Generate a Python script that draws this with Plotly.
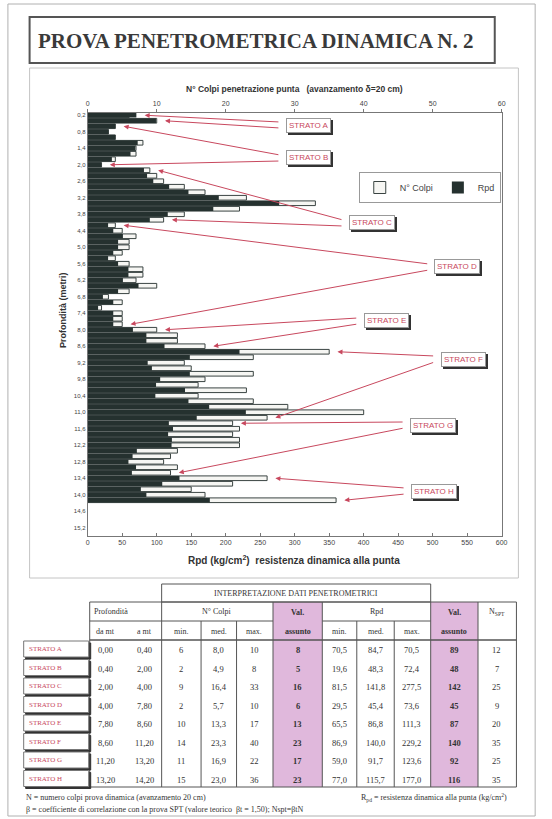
import plotly.graph_objects as go

W, H = 552, 819

# profondità delle letture (ogni 20 cm)
profondita = [round(0.2 * i, 1) for i in range(1, 72)]

n_colpi = [6, 10,
           4, 3, 4, 8, 7, 7, 4, 2,
           9, 10, 11, 14, 17, 23, 33, 22, 14, 11,
           4, 5, 7, 6, 6, 5, 4, 6, 8, 8, 7, 10, 6, 3, 5, 2, 5, 5, 5,
           10, 13, 13, 17,
           35, 24, 14, 15, 24, 17, 16, 23, 16, 24, 29, 40, 26,
           21, 22, 21, 22, 22, 13, 12, 11, 13, 12,
           26, 21, 15, 17, 36]

rpd = [70.5, 98.9,
       40, 30, 40, 72.4, 69, 62, 35, 19.6,
       81.5, 86, 95, 118, 146, 190, 277.5, 182, 116, 90,
       29.5, 37, 51, 44, 44, 37, 29.5, 44, 59, 59, 51, 73.6, 44, 22, 37, 15, 37, 37, 37,
       65.5, 85, 85, 111.3,
       220, 148, 86.9, 93, 148, 105, 99, 141, 98, 146, 176, 229.2, 158,
       117.6, 123.6, 116.5, 122, 121.5, 71.2, 65, 59, 70, 64,
       133, 108, 77, 85, 177]

tick_depths = [round(0.2 + 0.6 * k, 1) for k in range(26)]
tick_labels = [f"{v:.1f}".replace(".", ",") for v in tick_depths]

# tabella interpretazione
strati = ["STRATO A", "STRATO B", "STRATO C", "STRATO D",
          "STRATO E", "STRATO F", "STRATO G", "STRATO H"]
da_mt = [0.00, 0.40, 2.00, 4.00, 7.80, 8.60, 11.20, 13.20]
a_mt = [0.40, 2.00, 4.00, 7.80, 8.60, 11.20, 13.20, 14.20]
n_min = [6, 2, 9, 2, 10, 14, 11, 15]
n_med = [8.0, 4.9, 16.4, 5.7, 13.3, 23.3, 16.9, 23.0]
n_max = [10, 8, 33, 10, 17, 40, 22, 36]
n_val = [8, 5, 16, 6, 13, 23, 17, 23]
rpd_min = [70.5, 19.6, 81.5, 29.5, 65.5, 86.9, 59.0, 77.0]
rpd_med = [84.7, 48.3, 141.8, 45.4, 86.8, 140.0, 91.7, 115.7]
rpd_max = [70.5, 72.4, 277.5, 73.6, 111.3, 229.2, 123.6, 177.0]
rpd_val = [89, 48, 142, 45, 87, 140, 92, 116]
nspt = [12, 7, 25, 9, 20, 35, 25, 35]

# posizione (px) delle etichette degli strati nel grafico
label_pos = [(311, 125), (311, 158), (375, 223), (462, 267),
             (390, 321), (468, 359), (437, 425), (438, 491)]

RED = "#c8485e"
SANS = "Liberation Sans, Arial, sans-serif"
SERIF = "Liberation Serif, Times New Roman, serif"
INK = "#333333"


def fx(px):
    return px / W


def fy(py):
    return 1 - py / H


def comma(v, d):
    return f"{v:.{d}f}".replace(".", ",")


PLOT_L, PLOT_R, PLOT_T, PLOT_B = 87, 507, 112.5, 536

fig = go.Figure()
fig.add_trace(go.Bar(y=profondita, x=n_colpi, orientation="h", name="N° Colpi",
                     xaxis="x", yaxis="y", width=0.17,
                     marker=dict(color="#f6f6f3", line=dict(color="#3a4442", width=1))))
fig.add_trace(go.Bar(y=profondita, x=rpd, orientation="h", name="Rpd",
                     xaxis="x2", yaxis="y", width=0.17,
                     marker=dict(color="#25312f", line=dict(width=0))))

shapes = []
ann = []


def rect(x0, y0, x1, y1, line="#555", width=1, fill=None):
    d = dict(type="rect", xref="paper", yref="paper", x0=fx(x0), x1=fx(x1),
             y0=fy(y0), y1=fy(y1), line=dict(color=line, width=width), layer="below")
    if fill:
        d["fillcolor"] = fill
    if width == 0:
        d["line"] = dict(width=0)
    shapes.append(d)


def hline(x0, x1, y, width=1, color="#555"):
    shapes.append(dict(type="line", xref="paper", yref="paper", x0=fx(x0), x1=fx(x1),
                       y0=fy(y), y1=fy(y), line=dict(color=color, width=width)))


def vline(x, y0, y1, width=1, color="#555"):
    shapes.append(dict(type="line", xref="paper", yref="paper", x0=fx(x), x1=fx(x),
                       y0=fy(y0), y1=fy(y1), line=dict(color=color, width=width)))


def text(s, x, y, size=8, font=SERIF, color=INK, anchor="center", **kw):
    ann.append(dict(text=s, x=fx(x), y=fy(y), xref="paper", yref="paper",
                    showarrow=False, xanchor=anchor, yanchor="middle",
                    font=dict(family=font, size=size, color=color), **kw))


# cornici pagina
rect(6, 4, 541, 816, line="#b0b0b0")
rect(28, 17, 500, 63, line="#555", width=2)
rect(28, 68, 524, 578, line="#c4c4c4")
text("<b>PROVA PENETROMETRICA DINAMICA N. 2</b>", 34, 41, size=21, anchor="left", color="#3a3a3a")

# titoli assi
text("<b>N° Colpi penetrazione punta   (avanzamento δ=20 cm)</b>", 297, 89, size=8.5, font=SANS)
text("<b>Rpd (kg/cm<sup>2</sup>)  resistenza dinamica alla punta</b>", 296, 560, size=10, font=SANS)
text("<b>Profondità (metri)</b>", 62, 310, size=9, font=SANS, textangle=-90)

# etichette strati con frecce
for k, name in enumerate(strati):
    cx, cy = label_pos[k]
    i0 = profondita.index(round(da_mt[k] + 0.2, 1))
    i1 = profondita.index(round(a_mt[k], 1))
    left = cx - 29
    for j, i in enumerate((i0, i1)):
        tip = max(n_colpi[i] * 10, rpd[i]) + 12
        ty = cy - 3 if j == 0 else cy + 3
        ann.append(dict(x=tip, y=profondita[i], xref="x2", yref="y", text="",
                        showarrow=True, axref="x2", ayref="y",
                        ax=(left - PLOT_L) / 0.7, ay=0.1 + (ty - PLOT_T) / 27.5,
                        arrowhead=2, arrowsize=1, arrowwidth=1, arrowcolor=RED, standoff=0))
    ann.append(dict(text=name, x=fx(cx), y=fy(cy), xref="paper", yref="paper",
                    showarrow=False, xanchor="center", yanchor="middle", xshift=2, yshift=-2,
                    font=dict(family=SANS, size=8, color="#333"), bgcolor="#333",
                    bordercolor="#333", borderwidth=1, borderpad=2))
    ann.append(dict(text=name, x=fx(cx), y=fy(cy), xref="paper", yref="paper",
                    showarrow=False, xanchor="center", yanchor="middle",
                    font=dict(family=SANS, size=8, color=RED), bgcolor="white",
                    bordercolor="#999", borderwidth=1, borderpad=2))

# tabella
T_TOP, H1, H2, H3, T_BOT = 584, 602, 621, 640, 787
rect(275, H1, 325, T_BOT, width=0, fill="#e0b8dc")
rect(435, H1, 483, T_BOT, width=0, fill="#e0b8dc")
rect(162, T_TOP, 435, H1)
rect(89, H1, 522, T_BOT)
hline(89, 275, H2)
hline(325, 435, H2)
hline(89, 522, H3, width=1.5)
for x in (162, 275, 325, 435, 483):
    vline(x, H1, T_BOT)
for x in (202, 238, 360, 398):
    vline(x, H2, T_BOT)

text("INTERPRETAZIONE DATI PENETROMETRICI", 298, 593, size=8)
text("Profondità", 91, 611, anchor="left")
text("N° Colpi", 218, 611)
text("Rpd", 380, 611)
text("N<sub>SPT</sub>", 502, 612)
for cxv in (300, 459):
    text("<b>Val.</b>", cxv, 612)
    text("<b>assunto</b>", cxv, 631)
for s, cxv in [("da mt", 105), ("a mt", 145), ("min.", 182), ("med.", 220), ("max.", 256),
               ("min.", 342), ("med.", 379), ("max.", 416)]:
    text(s, cxv, 631)

for i, name in enumerate(strati):
    cy = 650 + 18.5 * i
    rect(24, cy - 7, 90, cy + 9, line="#333", fill="#333")
    rect(22, cy - 9, 88, cy + 7, line="#777", fill="white")
    text(name, 25, cy - 1, size=7, color=RED, anchor="left")
    row = [(comma(da_mt[i], 2), 105), (comma(a_mt[i], 2), 145),
           (str(n_min[i]), 182), (comma(n_med[i], 1), 220), (str(n_max[i]), 256),
           (f"<b>{n_val[i]}</b>", 300),
           (comma(rpd_min[i], 1), 342), (comma(rpd_med[i], 1), 379), (comma(rpd_max[i], 1), 416),
           (f"<b>{rpd_val[i]}</b>", 459), (str(nspt[i]), 502)]
    for s, cxv in row:
        text(s, cxv, cy, size=8.5)

text("N = numero colpi prova dinamica (avanzamento 20 cm)", 22, 797, size=8, anchor="left")
text("R<sub>pd</sub> = resistenza dinamica alla punta (kg/cm<sup>2</sup>)", 362, 797, size=8, anchor="left")
text("β = coefficiente di correlazione con la prova SPT (valore teorico  βt = 1,50); Nspt=βtN",
     22, 809, size=8, anchor="left")

axis_font = dict(family=SANS, size=7, color="#444")
fig.update_layout(
    width=W, height=H, margin=dict(l=0, r=0, t=0, b=0),
    paper_bgcolor="white", plot_bgcolor="white",
    showlegend=True,
    legend=dict(orientation="h", x=fx(362), y=fy(172), xanchor="left", yanchor="top",
                bgcolor="white", bordercolor="#999", borderwidth=1,
                font=dict(family=SANS, size=9, color="#444"), itemwidth=30),
    xaxis=dict(domain=[fx(PLOT_L), fx(PLOT_R)], range=[0, 60], side="top", dtick=10,
               anchor="y", showgrid=False, zeroline=False, showline=True, linecolor="#777",
               ticks="outside", ticklen=3, tickcolor="#777", tickfont=axis_font),
    xaxis2=dict(domain=[fx(PLOT_L), fx(PLOT_R)], range=[0, 600], side="bottom", dtick=50,
                overlaying="x", anchor="y", showgrid=False, zeroline=False, showline=True,
                linecolor="#777", ticks="inside", ticklen=3, tickcolor="#777", tickfont=axis_font),
    yaxis=dict(domain=[fy(PLOT_B), fy(PLOT_T)], range=[15.5, 0.1], tickvals=tick_depths,
               ticktext=tick_labels, showgrid=False, zeroline=False, showline=True,
               mirror=True, linecolor="#777", ticks="", tickfont=dict(family=SANS, size=6, color="#444")),
    shapes=shapes,
    annotations=ann,
)

# la pagina deve partire dall'angolo, senza il margine del body
fig.write_html("out.html", config={"displayModeBar": False},
               post_script="document.body.style.margin='0';")
